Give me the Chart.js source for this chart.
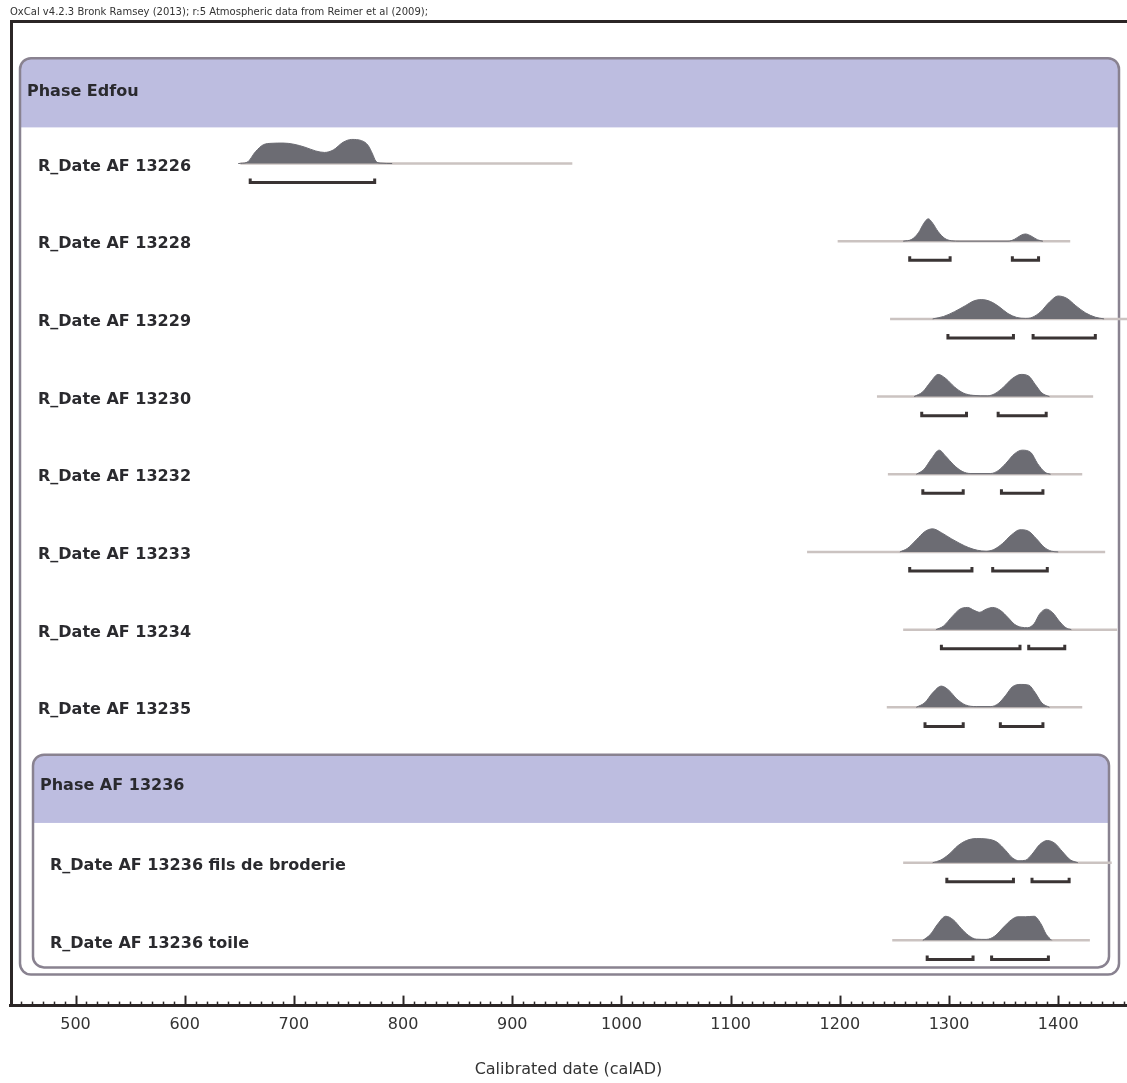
<!DOCTYPE html>
<html>
<head>
<meta charset="utf-8">
<script src="https://cdn.jsdelivr.net/npm/chart.js@4.4.1/dist/chart.umd.min.js"></script>
<style>
  html, body { margin: 0; padding: 0; background: #fff; }
  #wrap { width: 1127px; height: 1083px; }
</style>
</head>
<body>
<div id="wrap"><canvas id="oxcalChart"></canvas></div>
<script>
// Sample names, in plot order
const sampleNames = [
    'R_Date AF 13226', 'R_Date AF 13228', 'R_Date AF 13229', 'R_Date AF 13230',
    'R_Date AF 13232', 'R_Date AF 13233', 'R_Date AF 13234', 'R_Date AF 13235',
    'R_Date AF 13236 fils de broderie', 'R_Date AF 13236 toile'
];

// Calibrated probability, [year AD, relative probability]
const prob13226 = [[649,0],[657,0.05],[665,0.5],[672,0.78],[680,0.84],[690,0.85],[700,0.8],[710,0.68],[720,0.52],[728,0.46],[736,0.56],[745,0.88],[753,1.0],[762,0.95],[768,0.75],[772,0.4],[775,0.1],[779,0.02],[790,0]];
const prob13228 = [[1258,0],[1266,0.08],[1272,0.35],[1277,0.75],[1281,0.93],[1285,0.75],[1290,0.4],[1296,0.12],[1302,0.02],[1310,0],[1354,0],[1360,0.08],[1366,0.25],[1370,0.3],[1375,0.22],[1381,0.06],[1386,0]];
const prob13229 = [[1285,0],[1295,0.1],[1305,0.3],[1315,0.55],[1323,0.75],[1330,0.8],[1338,0.72],[1346,0.5],[1354,0.22],[1362,0.06],[1370,0.02],[1376,0.06],[1384,0.3],[1392,0.7],[1400,0.95],[1408,0.85],[1416,0.55],[1425,0.25],[1434,0.07],[1442,0]];
const prob13230 = [[1268,0],[1276,0.2],[1283,0.6],[1290,0.92],[1297,0.75],[1305,0.4],[1313,0.15],[1322,0.05],[1335,0.03],[1342,0.12],[1350,0.4],[1358,0.75],[1366,0.92],[1373,0.85],[1379,0.5],[1385,0.15],[1392,0]];
const prob13232 = [[1270,0],[1277,0.2],[1284,0.65],[1291,1.0],[1297,0.75],[1304,0.4],[1312,0.12],[1320,0.03],[1338,0.03],[1345,0.15],[1352,0.45],[1360,0.85],[1367,1.0],[1375,0.9],[1381,0.45],[1388,0.08],[1393,0]];
const prob13233 = [[1255,0],[1262,0.15],[1270,0.5],[1278,0.85],[1285,0.96],[1293,0.8],[1302,0.55],[1310,0.35],[1318,0.18],[1326,0.07],[1334,0.03],[1341,0.1],[1349,0.35],[1357,0.7],[1365,0.92],[1372,0.88],[1380,0.55],[1387,0.2],[1394,0.03],[1400,0]];
const prob13234 = [[1288,0],[1295,0.15],[1303,0.55],[1310,0.85],[1317,0.92],[1323,0.8],[1328,0.72],[1334,0.85],[1340,0.92],[1347,0.8],[1354,0.5],[1360,0.22],[1366,0.1],[1372,0.08],[1378,0.25],[1383,0.65],[1389,0.85],[1395,0.7],[1401,0.35],[1407,0.08],[1412,0]];
const prob13235 = [[1270,0],[1278,0.2],[1285,0.6],[1293,0.88],[1300,0.7],[1307,0.35],[1315,0.1],[1325,0.03],[1338,0.03],[1345,0.15],[1352,0.5],[1358,0.85],[1366,0.95],[1373,0.92],[1379,0.6],[1385,0.18],[1392,0]];
const probFils  = [[1285,0],[1292,0.1],[1300,0.35],[1308,0.7],[1316,0.92],[1325,1.0],[1335,0.98],[1344,0.85],[1352,0.5],[1358,0.2],[1364,0.08],[1370,0.1],[1376,0.35],[1383,0.75],[1390,0.92],[1397,0.8],[1404,0.45],[1411,0.12],[1418,0]];
const probToile = [[1276,0],[1283,0.25],[1290,0.7],[1297,1.0],[1304,0.85],[1311,0.5],[1318,0.2],[1325,0.05],[1334,0.04],[1342,0.18],[1350,0.55],[1357,0.85],[1363,0.98],[1370,0.98],[1378,1.0],[1384,0.7],[1389,0.25],[1394,0]];
const probs = [prob13226, prob13228, prob13229, prob13230, prob13232, prob13233, prob13234, prob13235, probFils, probToile];

// Extent of the unmodelled (tail) distribution, years AD
const tails = [[651,955],[1198,1411],[1246,1465],[1234,1432],[1244,1422],[1170,1443],[1258,1454],[1243,1422],[1258,1449],[1248,1429]];

// 95.4% ranges, years AD
const ranges = [
    [[660,774]],
    [[1264,1301],[1358,1382]],
    [[1299,1359],[1377,1434]],
    [[1275,1316],[1345,1389]],
    [[1276,1313],[1348,1386]],
    [[1264,1321],[1340,1390]],
    [[1293,1365],[1373,1406]],
    [[1278,1313],[1347,1386]],
    [[1298,1359],[1376,1410]],
    [[1280,1322],[1339,1391]]
];

const phaseNames = ['Phase Edfou', 'Phase AF 13236'];
const xMin = 440, xMax = 1463;

// layout (y in pixels below the plot top, reversed axis)
const ROW0 = 143, STEP = 77.4, PEAK = 24, BRACKET = 19;
const slotOf = i => (i < 8 ? i : i + 1);
const baseOf = i => ROW0 + slotOf(i) * STEP;

const datasets = [];
probs.forEach((p, i) => {
    const b = baseOf(i);
    datasets.push({
        data: tails[i].map(x => ({ x, y: b })),
        borderColor: '#cbc3c1', borderWidth: 2.5, fill: false, order: 3
    });
    datasets.push({
        data: p.map(([x, v]) => ({ x, y: b - v * PEAK })),
        borderColor: '#6c6c73', backgroundColor: '#6c6c73', borderWidth: 1,
        fill: { value: b }, cubicInterpolationMode: 'monotone', order: 2
    });
    ranges[i].forEach(([a, c]) => {
        const yb = b + BRACKET;
        datasets.push({
            data: [{ x: a, y: yb - 4 }, { x: a, y: yb }, { x: c, y: yb }, { x: c, y: yb - 4 }],
            borderColor: '#3a3434', borderWidth: 3, fill: false, order: 1
        });
    });
});

function roundBox(ctx, x1, y1, x2, y2, r) {
    ctx.beginPath();
    ctx.roundRect(x1, y1, x2 - x1, y2 - y1, r);
}

const oxcalFrame = {
    id: 'oxcalFrame',
    beforeDatasetsDraw(chart) {
        const { ctx, chartArea: a, scales: { y } } = chart;
        const py = v => y.getPixelForValue(v);
        ctx.save();
        // outer frame
        ctx.strokeStyle = '#2b2626';
        ctx.lineWidth = 3;
        ctx.beginPath();
        ctx.moveTo(a.left + 1.5, a.bottom);
        ctx.lineTo(a.left + 1.5, a.top + 1.5);
        ctx.lineTo(a.right, a.top + 1.5);
        ctx.stroke();

        // phase boxes
        const boxes = [
            { x1: 20, x2: 1119, y1: py(38), y2: py(951), h: py(107), name: phaseNames[0], tx: 27, ty: py(72) },
            { x1: 33, x2: 1109, y1: py(732), y2: py(944), h: py(800), name: phaseNames[1], tx: 40, ty: py(763) }
        ];
        boxes.forEach(bx => {
            roundBox(ctx, bx.x1, bx.y1, bx.x2, bx.y2, 11);
            ctx.fillStyle = '#ffffff';
            ctx.fill();
            ctx.save();
            ctx.clip();
            ctx.fillStyle = '#bdbde0';
            ctx.fillRect(bx.x1, bx.y1, bx.x2 - bx.x1, bx.h - bx.y1);
            ctx.restore();
            roundBox(ctx, bx.x1, bx.y1, bx.x2, bx.y2, 11);
            ctx.strokeStyle = '#898290';
            ctx.lineWidth = 2.5;
            ctx.stroke();
            ctx.fillStyle = '#2a2a2e';
            ctx.font = 'bold 16px "DejaVu Sans"';
            ctx.textBaseline = 'middle';
            ctx.fillText(bx.name, bx.tx, bx.ty);
        });

        // sample labels
        ctx.font = 'bold 16px "DejaVu Sans"';
        ctx.fillStyle = '#2a2a2e';
        ctx.textBaseline = 'middle';
        sampleNames.forEach((n, i) => {
            ctx.fillText(n, i < 8 ? 38 : 50, py(baseOf(i)) + 3);
        });
        ctx.restore();
    },
    afterDraw(chart) {
        const { ctx, chartArea: a, scales: { x } } = chart;
        ctx.save();
        ctx.strokeStyle = '#2b2626';
        for (let yr = 450; yr <= xMax; yr += 10) {
            const px = Math.round(x.getPixelForValue(yr)) + 0.5;
            const len = yr % 100 === 0 ? 10 : 4;
            ctx.lineWidth = yr % 100 === 0 ? 2 : 1.5;
            ctx.beginPath();
            ctx.moveTo(px, a.bottom);
            ctx.lineTo(px, a.bottom - len);
            ctx.stroke();
        }
        ctx.restore();
    }
};

new Chart(document.getElementById('oxcalChart').getContext('2d'), {
    type: 'line',
    data: { datasets },
    plugins: [oxcalFrame],
    options: {
        responsive: true,
        maintainAspectRatio: false,
        animation: false,
        layout: { padding: { left: 10, right: 0, top: 0, bottom: 0 } },
        elements: { point: { radius: 0, hoverRadius: 0 } },
        plugins: {
            legend: { display: false },
            tooltip: { enabled: false },
            title: {
                display: true,
                align: 'start',
                text: 'OxCal v4.2.3 Bronk Ramsey (2013); r:5 Atmospheric data from Reimer et al (2009);',
                color: '#333',
                font: { family: '"DejaVu Sans"', size: 10, weight: 'normal' },
                padding: { top: 6, bottom: 2 }
            }
        },
        scales: {
            x: {
                type: 'linear',
                min: xMin,
                max: xMax,
                afterBuildTicks: s => { s.ticks = s.ticks.filter(t => t.value % 100 === 0); },
                ticks: { stepSize: 100, autoSkip: false, maxRotation: 0, padding: 10, color: '#333',
                         font: { family: '"DejaVu Sans"', size: 16 },
                         callback: v => String(v) },
                grid: { display: false, drawTicks: false },
                border: { display: true, color: '#2b2626', width: 3 },
                title: { display: true, text: 'Calibrated date (calAD)', color: '#333',
                         font: { family: '"DejaVu Sans"', size: 16 }, padding: { top: 15, bottom: 4 } }
            },
            y: {
                type: 'linear',
                display: false,
                reverse: true,
                min: 0,
                max: 982
            }
        }
    }
});
</script>
</body>
</html>
